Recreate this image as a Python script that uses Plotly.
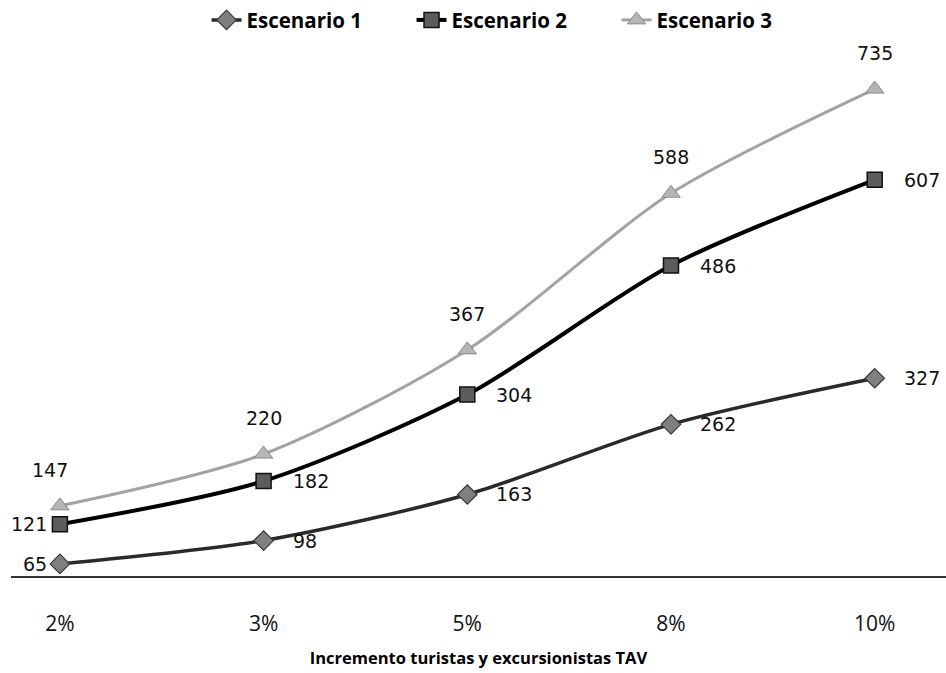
import plotly.graph_objects as go

categorias = ["2%", "3%", "5%", "8%", "10%"]
escenario_1 = [65, 98, 163, 262, 327]
escenario_2 = [121, 182, 304, 486, 607]
escenario_3 = [147, 220, 367, 588, 735]

fig = go.Figure()

label_font = dict(family="DejaVu Sans", size=19, color="#111111")

fig.add_trace(go.Scatter(
    x=categorias, y=escenario_1, name="Escenario 1",
    mode="lines+markers",
    line=dict(color="#2a2a2a", width=3.5, shape="spline", smoothing=0.8),
    marker=dict(symbol="diamond", size=15, color="#7f7f7f",
                line=dict(color="#3a3a3a", width=1.2)),
))

fig.add_trace(go.Scatter(
    x=categorias, y=escenario_2, name="Escenario 2",
    mode="lines+markers",
    line=dict(color="#000000", width=4, shape="spline", smoothing=0.8),
    marker=dict(symbol="square", size=15, color="#5c5c5c",
                line=dict(color="#111111", width=1.5)),
))

fig.add_trace(go.Scatter(
    x=categorias, y=escenario_3, name="Escenario 3",
    mode="lines+markers",
    line=dict(color="#a3a3a3", width=3, shape="spline", smoothing=0.8),
    marker=dict(symbol="triangle-up", size=16, color="#b5b5b5",
                line=dict(color="#8a8a8a", width=1)),
))

# data labels: first point of series 1 and 2 sits left of the marker,
# the rest to the right; series 3 labels go above the marker
annotations = []
for serie in (escenario_1, escenario_2):
    for i, (cat, val) in enumerate(zip(categorias, serie)):
        if i == 0:
            annotations.append(dict(x=cat, y=val, text=str(val), showarrow=False,
                                    xanchor="right", xshift=-11, font=label_font))
        else:
            annotations.append(dict(x=cat, y=val, text=str(val), showarrow=False,
                                    xanchor="left", xshift=27, font=label_font))
for i, (cat, val) in enumerate(zip(categorias, escenario_3)):
    annotations.append(dict(x=cat, y=val, text=str(val), showarrow=False,
                            xanchor="center", yshift=36, xshift=-10 if i == 0 else 0,
                            font=label_font))

fig.update_layout(
    width=946, height=673,
    margin=dict(l=11, r=0, t=40, b=97),
    paper_bgcolor="white", plot_bgcolor="white",
    showlegend=True,
    annotations=annotations,
    legend=dict(
        orientation="h", x=0.538, xanchor="center", y=1.043, yanchor="middle",
        font=dict(family="Open Sans", size=20.5, color="#000000", weight="bold"),
        itemwidth=30, entrywidth=160, entrywidthmode="pixels",
        bgcolor="rgba(0,0,0,0)",
    ),
    xaxis=dict(
        type="category", categoryorder="array", categoryarray=categorias,
        range=[-0.24, 4.35],
        showgrid=False, zeroline=False,
        showline=True, linecolor="#333333", linewidth=2,
        ticks="", ticklabelstandoff=28,
        tickfont=dict(family="Open Sans", size=21, color="#111111"),
        title=dict(text="Incremento turistas y excursionistas TAV",
                   font=dict(family="Open Sans", size=16.5, color="#000000", weight="bold"),
                   standoff=16),
    ),
    yaxis=dict(
        range=[48, 800], visible=False, showgrid=False, zeroline=False,
    ),
)

for tr in fig.data:
    tr.cliponaxis = False

fig.write_html("out.html")
